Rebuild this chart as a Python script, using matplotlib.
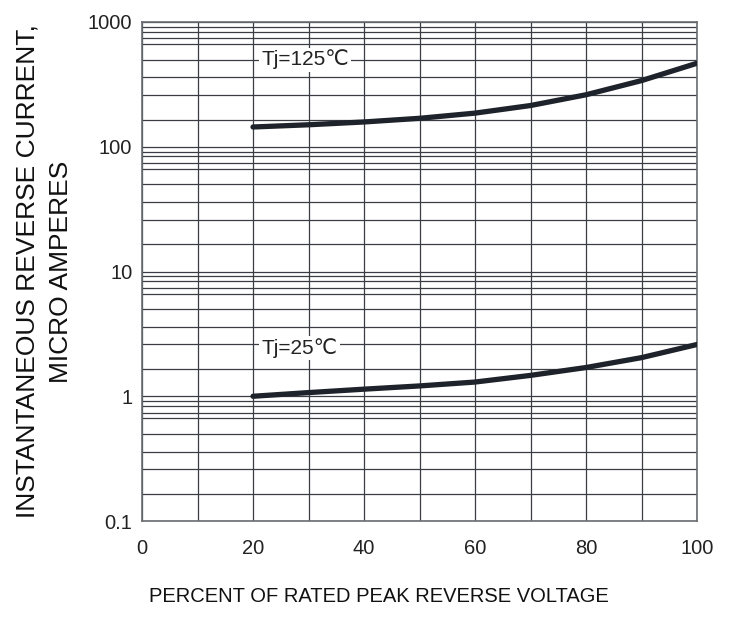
import numpy as np
import matplotlib.pyplot as plt
from matplotlib.ticker import FixedLocator, NullFormatter

plt.rcParams['font.family'] = ['Liberation Sans', 'DejaVu Sans']

# ================= DATA =================
voltage_pct = [20, 30, 40, 50, 60, 70, 80, 90, 100]
current_125 = [144, 150, 158, 169, 186, 214, 261, 339, 467]
current_25 = [1.00, 1.07, 1.14, 1.21, 1.30, 1.47, 1.70, 2.04, 2.60]

x_ticks = [0, 20, 40, 60, 80, 100]
y_ticks = [0.1, 1, 10, 100, 1000]
y_tick_labels = ['0.1', '1', '10', '100', '1000']

# minor grid positions inside each decade (as drawn in the chart)
minor_mult = [1.65, 2.6, 3.59, 5.0, 6.64, 7.41, 8.38, 9.16]

# ================= PLOT =================
fig = plt.figure(figsize=(7.35, 6.32), dpi=100)
ax = fig.add_axes([0.1932, 0.1756, 0.7551, 0.7896])

line_col = '#1e222a'
ax.plot(voltage_pct, current_125, color=line_col, lw=3.8, solid_capstyle='round', zorder=3)
ax.plot(voltage_pct, current_25, color=line_col, lw=3.8, solid_capstyle='round', zorder=3)

ax.set_yscale('log')
ax.set_xlim(0, 100)
ax.set_ylim(0.1, 1000)

minor_y = [d * m for d in [0.1, 1, 10, 100] for m in minor_mult]
ax.yaxis.set_major_locator(FixedLocator(y_ticks))
ax.yaxis.set_minor_locator(FixedLocator(minor_y))
ax.yaxis.set_minor_formatter(NullFormatter())
ax.set_yticklabels(y_tick_labels)
ax.set_xticks(x_ticks)
ax.set_xticks(np.arange(0, 101, 10), minor=True)

ax.grid(True, which='both', color='#3a3d44', lw=0.9)
ax.tick_params(which='both', length=0)
ax.tick_params(axis='x', pad=13, labelsize=14.5, colors='#222')
ax.tick_params(axis='y', pad=7, labelsize=14.5, colors='#222')
for s in ax.spines.values():
    s.set_color('#6a6d72')
    s.set_linewidth(1.2)

box = dict(facecolor='white', edgecolor='none', pad=1.5)
ax.text(21.5, 500, 'Tj=125\u2103', fontsize=15, color='#222', ha='left', va='center',
        bbox=box, zorder=4)
ax.text(21.5, 2.42, 'Tj=25\u2103', fontsize=15, color='#222', ha='left', va='center',
        bbox=box, zorder=4)

ax.set_ylabel('INSTANTANEOUS REVERSE CURRENT,\nMICRO AMPERES', fontsize=19,
              color='#111', linespacing=1.45, labelpad=11)
fig.text(0.515, 0.0555, 'PERCENT OF RATED PEAK REVERSE VOLTAGE', fontsize=14.5,
         color='#111', ha='center', va='center')

fig.savefig('out.png', dpi=100, facecolor='white')
